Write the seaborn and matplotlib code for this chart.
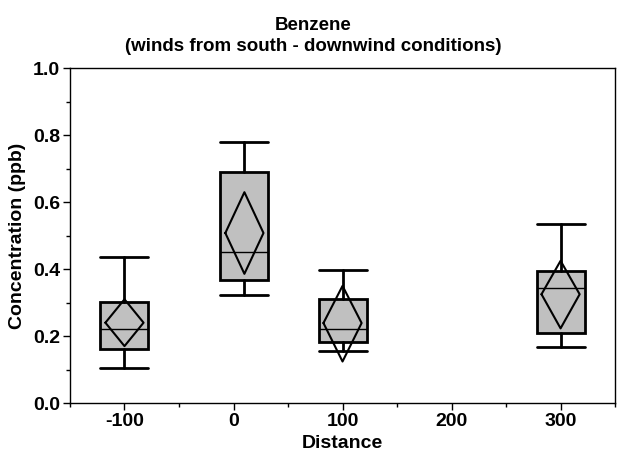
import matplotlib
matplotlib.use("Agg")
import matplotlib.pyplot as plt
import seaborn as sns
import pandas as pd

# summary values (ppb)
distance = [-100, 10, 100, 300]
whisker_lo = [0.104, 0.324, 0.156, 0.168]
q1 = [0.161, 0.368, 0.182, 0.209]
median = [0.220, 0.451, 0.221, 0.345]
q3 = [0.302, 0.691, 0.311, 0.395]
whisker_hi = [0.436, 0.780, 0.398, 0.534]
mean = [0.240, 0.508, 0.239, 0.325]
ci_lo = [0.170, 0.386, 0.124, 0.223]
ci_hi = [0.310, 0.630, 0.350, 0.425]

sns.set_style("ticks")
plt.rcParams["font.family"] = ["Liberation Sans", "DejaVu Sans"]
plt.rcParams["font.weight"] = "bold"
plt.rcParams["text.color"] = "black"
plt.rcParams["axes.labelcolor"] = "black"
plt.rcParams["xtick.color"] = "black"
plt.rcParams["ytick.color"] = "black"
plt.rcParams["axes.unicode_minus"] = False

fig = plt.figure(figsize=(6.27, 4.59), dpi=100)
ax = fig.add_axes([0.1116, 0.122, 0.8694, 0.729])

stats = []
for i in range(len(distance)):
    stats.append(dict(med=median[i], q1=q1[i], q3=q3[i],
                      whislo=whisker_lo[i], whishi=whisker_hi[i], fliers=[]))
ax.bxp(stats, positions=distance, widths=44, capwidths=44, patch_artist=True,
       showfliers=False, manage_ticks=False,
       boxprops=dict(facecolor="#c0c0c0", edgecolor="black", linewidth=2),
       whiskerprops=dict(color="black", linewidth=2),
       capprops=dict(color="black", linewidth=2),
       medianprops=dict(color="black", linewidth=1))

# means diamonds
half = 17.5
rows = []
for i, d in enumerate(distance):
    xs = [d - half, d, d + half, d, d - half]
    ys = [mean[i], ci_hi[i], mean[i], ci_lo[i], mean[i]]
    for k, (x, y) in enumerate(zip(xs, ys)):
        rows.append(dict(x=x, y=y, g=str(d), k=k))
diam = pd.DataFrame(rows)
sns.lineplot(data=diam, x="x", y="y", units="g", estimator=None, sort=False,
             color="black", linewidth=1.5, ax=ax, legend=False)

ax.set_xlim(-150, 350)
ax.set_ylim(0, 1.0)
ax.set_xticks([-100, 0, 100, 200, 300])
ax.set_xticks([-150, -50, 50, 150, 250, 350], minor=True)
ax.set_yticks([0, 0.2, 0.4, 0.6, 0.8, 1.0])
ax.set_yticks([0.1, 0.3, 0.5, 0.7, 0.9], minor=True)
ax.set_yticklabels(["0.0", "0.2", "0.4", "0.6", "0.8", "1.0"])
ax.tick_params(axis="both", which="major", labelsize=14, length=5, width=1,
               direction="out", pad=2)
ax.tick_params(axis="both", which="minor", length=3, width=1, direction="out")
for s in ax.spines.values():
    s.set_linewidth(1)
    s.set_color("black")

ax.set_xlabel("Distance", fontsize=14, fontweight="bold", labelpad=4)
ax.set_ylabel("Concentration (ppb)", fontsize=14, fontweight="bold", labelpad=5)
fig.suptitle("Benzene\n(winds from south - downwind conditions)",
             x=0.5, y=0.962, fontsize=13.5, fontweight="bold", linespacing=1.25)

fig.savefig("out.png", dpi=100)
